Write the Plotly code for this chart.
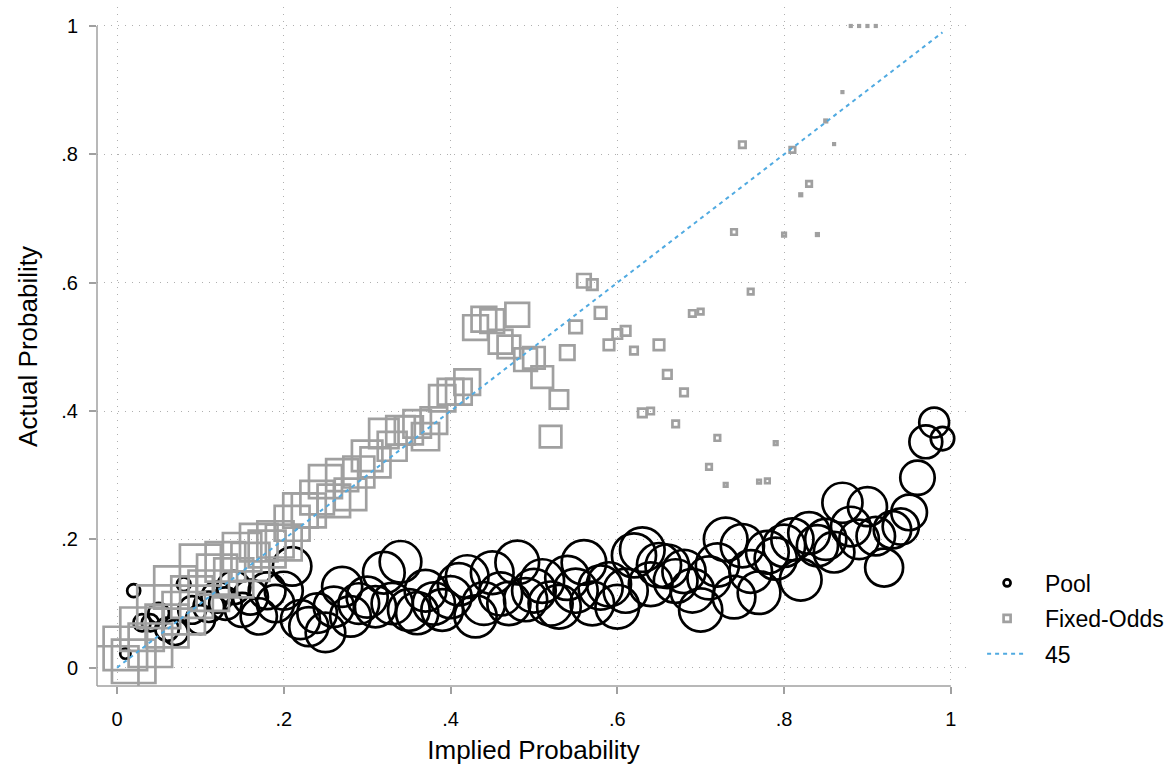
import plotly.graph_objects as go

# ---------------- data ----------------
pool_x = [round(0.01 * i, 2) for i in range(1, 100)]
pool_y = [0.022, 0.120, 0.070, 0.070, 0.085, 0.060, 0.055, 0.130, 0.090, 0.075,
          0.095, 0.110, 0.100, 0.125, 0.090, 0.110, 0.080, 0.120, 0.100, 0.120,
          0.158, 0.075, 0.064, 0.085, 0.055, 0.095, 0.126, 0.080, 0.100, 0.110,
          0.095, 0.148, 0.100, 0.165, 0.090, 0.085, 0.120, 0.100, 0.090, 0.110,
          0.130, 0.142, 0.080, 0.100, 0.148, 0.115, 0.100, 0.164, 0.106, 0.120,
          0.135, 0.100, 0.095, 0.140, 0.120, 0.164, 0.100, 0.125, 0.130, 0.095,
          0.120, 0.175, 0.184, 0.130, 0.160, 0.158, 0.135, 0.150, 0.120, 0.090,
          0.140, 0.160, 0.200, 0.110, 0.190, 0.150, 0.117, 0.180, 0.170, 0.190,
          0.200, 0.137, 0.210, 0.190, 0.200, 0.180, 0.257, 0.220, 0.200, 0.251,
          0.205, 0.156, 0.215, 0.220, 0.242, 0.296, 0.352, 0.382, 0.357]
pool_w = [5, 8, 14, 14, 20, 26, 30, 9, 36, 40,
          44, 46, 50, 52, 55, 58, 62, 64, 66, 68,
          70, 72, 72, 74, 74, 76, 76, 78, 78, 80,
          80, 82, 80, 82, 82, 84, 82, 84, 82, 84,
          84, 86, 84, 86, 86, 88, 88, 90, 88, 90,
          90, 92, 90, 92, 92, 94, 90, 92, 92, 90,
          92, 92, 94, 90, 92, 90, 90, 88, 90, 88,
          88, 88, 90, 86, 88, 86, 86, 86, 84, 84,
          84, 82, 82, 80, 80, 78, 76, 74, 74, 72,
          70, 68, 66, 62, 60, 56, 51, 42, 26]

fo_x = [round(0.01 * i, 2) for i in range(0, 92)]
fo_y = [0.000, 0.030, 0.010, 0.060, 0.035, 0.095, 0.065, 0.125, 0.085, 0.110,
        0.160, 0.120, 0.145, 0.165, 0.140, 0.180, 0.165, 0.195, 0.185, 0.200,
        0.195, 0.225, 0.245, 0.245, 0.265, 0.290, 0.260, 0.300, 0.270, 0.305,
        0.330, 0.320, 0.365, 0.345, 0.370, 0.370, 0.380, 0.360, 0.385, 0.420,
        0.430, 0.430, 0.445, 0.530, 0.543, 0.540, 0.508, 0.500, 0.550, 0.480,
        0.483, 0.453, 0.360, 0.418, 0.491, 0.531, 0.603, 0.597, 0.553, 0.503,
        0.520, 0.525, 0.494, 0.397, 0.400, 0.503, 0.457, 0.380, 0.429, 0.552,
        0.555, 0.313, 0.358, 0.285, 0.679, 0.815, 0.586, 0.290, 0.291, 0.350,
        0.675, 0.807, 0.737, 0.754, 0.675, 0.852, 0.816, 0.897, 1.000, 1.000,
        1.000, 1.000]
fo_w = [115, 118, 118, 118, 118, 115, 115, 112, 112, 108,
        105, 102, 100, 98, 95, 92, 90, 88, 85, 82,
        80, 76, 74, 72, 70, 68, 66, 64, 62, 60,
        58, 56, 54, 52, 51, 49, 47, 46, 44, 43,
        41, 41, 41, 38, 38, 35, 35, 32, 35, 32,
        29, 29, 29, 21, 13, 9.8, 11.4, 6.9, 8.3, 6.9,
        5.6, 5.6, 3.5, 4.5, 2.6, 6.9, 4.5, 2.6, 3.5, 2.6,
        1.9, 1.9, 1.9, 0.77, 1.9, 2.6, 1.9, 0.77, 1.3, 0.77,
        0.77, 1.9, 0.39, 1.9, 0.39, 0.39, 0.14, 0.14, 0.14, 0.14,
        0.14, 0.14]

diag_x = [0.0, 0.99]
diag_y = [0.0, 0.99]

x_ticks = [0, 0.2, 0.4, 0.6, 0.8, 1]
x_tick_labels = ["0", ".2", ".4", ".6", ".8", "1"]
y_ticks = [0, 0.2, 0.4, 0.6, 0.8, 1]
y_tick_labels = ["0", ".2", ".4", ".6", ".8", "1"]

X_RANGE = [-0.024, 1.023]
Y_RANGE = [-0.0285, 1.0296]

# ---------------- styles ----------------
FONT = "Liberation Sans, Arial, sans-serif"
GRAY = "rgb(160,160,160)"
BLUE = "rgb(80,170,225)"
NB = "\u00a0\u00a0"

fig = go.Figure()

fig.add_trace(go.Scatter(
    x=pool_x, y=pool_y, mode="markers", name="Pool", showlegend=False,
    marker=dict(symbol="circle-open", size=pool_w, sizemode="area",
                sizeref=2 * 100 / 46 ** 2, color="black", opacity=1,
                line=dict(color="black", width=2.7)),
    hoverinfo="x+y"))

fig.add_trace(go.Scatter(
    x=fo_x, y=fo_y, mode="markers", name="Fixed-Odds", showlegend=False,
    marker=dict(symbol="square-open", size=fo_w, sizemode="area",
                sizeref=2 * 100 / 40 ** 2, color=GRAY, opacity=1,
                line=dict(color=GRAY, width=2.7)),
    hoverinfo="x+y"))

fig.add_trace(go.Scatter(
    x=diag_x, y=diag_y, mode="lines", name="45", showlegend=False,
    line=dict(color=BLUE, width=2, dash="4px,4px")))

# legend entries
fig.add_trace(go.Scatter(x=[None], y=[None], mode="markers", name=NB + "Pool",
                         legendgroup="a",
                         marker=dict(symbol="circle-open", size=7, color="black",
                                     opacity=1,
                                     line=dict(color="black", width=2.7))))
fig.add_trace(go.Scatter(x=[None], y=[None], mode="markers", name=NB + "Fixed-Odds",
                         legendgroup="b",
                         marker=dict(symbol="square-open", size=7, color=GRAY,
                                     opacity=1,
                                     line=dict(color=GRAY, width=2.7))))
fig.add_trace(go.Scatter(x=[None], y=[None], mode="lines", name=NB + "45",
                         legendgroup="c",
                         line=dict(color=BLUE, width=2, dash="4px,4px")))

axis_common = dict(
    showline=False, automargin=False,
    ticks="outside", ticklen=7, tickcolor=GRAY, tickwidth=1.5,
    showgrid=True, gridcolor="rgb(175,175,175)", griddash="1px,6px", gridwidth=1,
    zeroline=False, tickfont=dict(family=FONT, size=20, color="black"),
)

# axis lines (spanning from the plot edge to the last tick)
fig.add_shape(type="line", xref="x", yref="paper", x0=X_RANGE[0], x1=1, y0=0, y1=0,
              line=dict(color=GRAY, width=1.5))
fig.add_shape(type="line", xref="paper", yref="y", x0=0, x1=0, y0=Y_RANGE[0], y1=1,
              line=dict(color=GRAY, width=1.5))

fig.update_layout(
    width=1165, height=765,
    margin=dict(l=97, r=195, t=7, b=79, autoexpand=False),
    paper_bgcolor="white", plot_bgcolor="white",
    font=dict(family=FONT, size=20, color="black"),
    xaxis=dict(range=X_RANGE, tickvals=x_ticks, ticktext=x_tick_labels,
               ticklabelstandoff=8,
               title=dict(text="Implied Probability",
                          font=dict(family=FONT, size=26), standoff=12),
               **axis_common),
    yaxis=dict(range=Y_RANGE, tickvals=y_ticks, ticktext=y_tick_labels,
               ticklabelstandoff=7,
               title=dict(text="Actual Probability",
                          font=dict(family=FONT, size=26), standoff=16),
               **axis_common),
    legend=dict(x=0.843, xref="container", xanchor="left",
                y=0.1915, yref="container", yanchor="middle",
                font=dict(family=FONT, size=23), tracegroupgap=2.5,
                itemwidth=40, bgcolor="rgba(0,0,0,0)"),
    showlegend=True,
)

fig.write_html("out.html",
               config={"displayModeBar": False},
               post_script="document.body.style.margin='0';"
                           "document.body.style.overflow='hidden';")
